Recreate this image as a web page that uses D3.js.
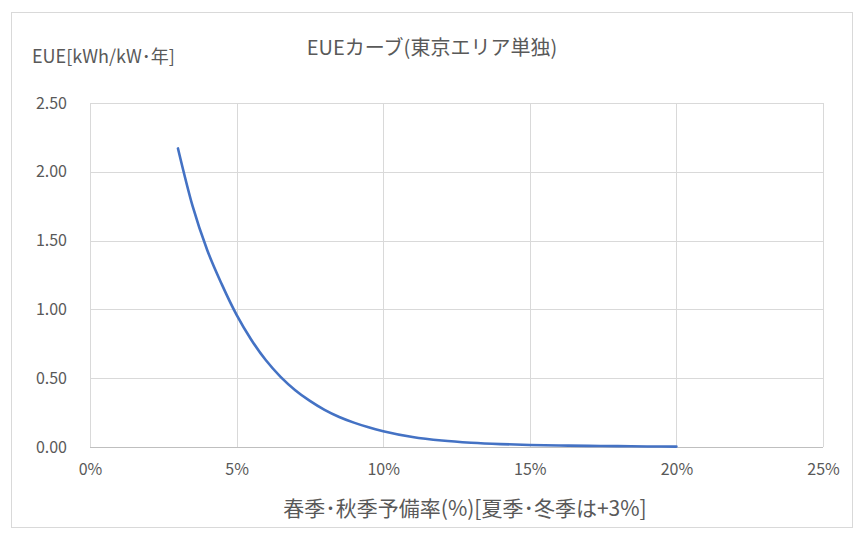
<!DOCTYPE html>
<html>
<head>
<meta charset="utf-8">
<script src="https://cdn.jsdelivr.net/npm/d3@7"></script>
<style>
  body { margin: 0; background: #fff; }
  text { font-family: "Noto Sans CJK JP", "Noto Sans", sans-serif; fill: #595959; }
</style>
</head>
<body>
<script>
w = 854;
h = 533;

// reserve margin (%) and EUE [kWh/kW-year]
reserve = [3.0, 3.5, 4.0, 4.5, 5.0, 5.5, 6.0, 6.5, 7.0, 7.5, 8.0, 8.5, 9.0, 9.5, 10, 11, 12, 13, 14, 15, 16, 17, 18, 19, 20];
eue = [2.17, 1.75, 1.43, 1.18, 0.96, 0.78, 0.63, 0.51, 0.413, 0.335, 0.27, 0.218, 0.177, 0.143, 0.115, 0.073, 0.047, 0.031, 0.021, 0.015, 0.011, 0.008, 0.006, 0.004, 0.003];
xTicks = [0, 5, 10, 15, 20, 25];
yTicks = [0, 0.5, 1.0, 1.5, 2.0, 2.5];

chartTitle = 'EUEカーブ(東京エリア単独)';
yTitle = 'EUE[kWh/kW･年]';
xTitle = '春季･秋季予備率(%)[夏季･冬季は+3%]';

let pLeft = 90, pRight = 823, pTop = 103, pBottom = 447;

let xScale = d3.scaleLinear()
  .domain([0, 25])
  .range([pLeft, pRight]);
let yScale = d3.scaleLinear()
  .domain([0, 2.5])
  .range([pBottom, pTop]);

svg = d3.select('body')
  .append('svg')
  .attr('width', w)
  .attr('height', h);

// chart border
svg.append('rect')
  .attr('x', 11.5)
  .attr('y', 12.5)
  .attr('width', 841)
  .attr('height', 515)
  .attr('fill', 'none')
  .attr('stroke', '#D9D9D9');

// gridlines
svg.selectAll('line.gx')
  .data(xTicks)
  .enter()
  .append('line')
  .attr('x1', d => Math.round(xScale(d)) + 0.5)
  .attr('x2', d => Math.round(xScale(d)) + 0.5)
  .attr('y1', pTop)
  .attr('y2', pBottom)
  .attr('stroke', '#D9D9D9');

svg.selectAll('line.gy')
  .data(yTicks)
  .enter()
  .append('line')
  .attr('x1', pLeft)
  .attr('x2', pRight)
  .attr('y1', d => Math.round(yScale(d)) + 0.5)
  .attr('y2', d => Math.round(yScale(d)) + 0.5)
  .attr('stroke', d => d === 0 ? '#BFBFBF' : '#D9D9D9');

let xAxis = d3.axisBottom(xScale)
  .tickValues(xTicks)
  .tickFormat(d => d + '%')
  .tickSize(0)
  .tickPadding(17);

let yAxis = d3.axisLeft(yScale)
  .tickValues(yTicks)
  .tickFormat(d3.format('.2f'))
  .tickSize(0)
  .tickPadding(23);

svg.append('g')
  .attr('transform', `translate(0, ${pBottom})`)
  .call(xAxis)
  .call(g => g.select('.domain').remove())
  .selectAll('text')
  .attr('font-size', 16)
  .attr('fill', '#595959');

svg.append('g')
  .attr('transform', `translate(${pLeft}, 0)`)
  .call(yAxis)
  .call(g => g.select('.domain').remove())
  .selectAll('text')
  .attr('font-size', 16)
  .attr('fill', '#595959');

let line = d3.line()
  .x((d, i) => xScale(reserve[i]))
  .y(d => yScale(d))
  .curve(d3.curveMonotoneX);

svg.append('path')
  .datum(eue)
  .attr('d', line)
  .attr('fill', 'none')
  .attr('stroke', '#4472C4')
  .attr('stroke-width', 2.6)
  .attr('stroke-linecap', 'round');

svg.append('text')
  .attr('x', 432)
  .attr('y', 55)
  .attr('text-anchor', 'middle')
  .attr('font-size', 20)
  .text(chartTitle);

svg.append('text')
  .attr('x', 32)
  .attr('y', 63)
  .attr('font-size', 18)
  .text(yTitle);

svg.append('text')
  .attr('x', 465)
  .attr('y', 516)
  .attr('text-anchor', 'middle')
  .attr('font-size', 21)
  .text(xTitle);
</script>
</body>
</html>
